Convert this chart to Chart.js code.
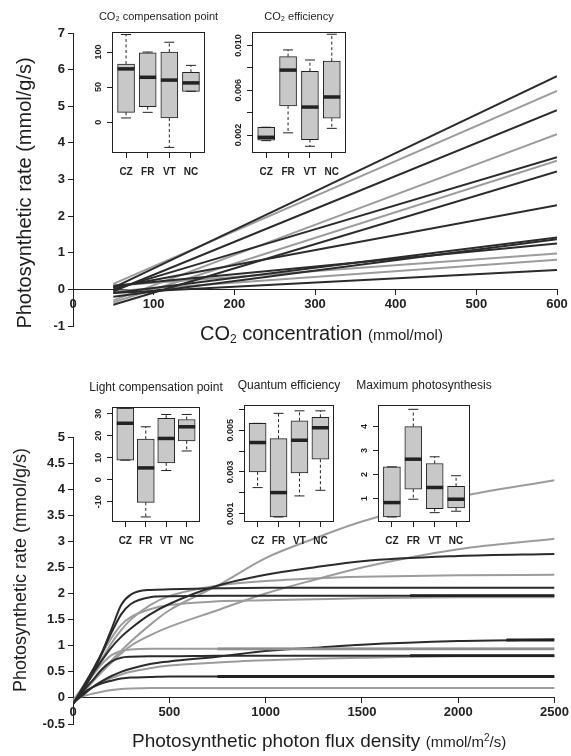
<!DOCTYPE html>
<html lang="en">
<head>
<meta charset="UTF-8">
<title>Photosynthetic response curves</title>
<script src="https://cdn.jsdelivr.net/npm/chart.js"></script>
<style>
    body { margin: 0; background: #fff; }
    #page { position: relative; width: 571px; height: 756px; overflow: hidden;
            font-family: 'Liberation Sans', 'DejaVu Sans', Arial, sans-serif; color: #1e1e1e; }
    canvas { position: absolute; }
    .ytitle { position: absolute; white-space: nowrap; transform: translate(-50%, -50%) rotate(-90deg); }
    .xtitle { position: absolute; white-space: nowrap; transform: translateY(-50%); }
    .unit { font-size: 15px; }
    sub { font-size: 12px; vertical-align: -3px; line-height: 0; }
    sup { font-size: 10px; vertical-align: 6px; line-height: 0; }
</style>
</head>
<body>
<div id="page">
    <canvas id="co2Chart" width="571" height="360" style="left:0;top:0"></canvas>
    <canvas id="lightChart" width="571" height="386" style="left:0;top:370px"></canvas>
    <div class="ytitle" style="left:23.5px;top:193px;font-size:20px">Photosynthetic rate (mmol/g/s)</div>
    <div class="ytitle" style="left:19.5px;top:570px;font-size:18px">Photosynthetic rate (mmol/g/s)</div>
    <div class="xtitle" style="left:200px;top:333px;font-size:20px">CO<sub>2</sub> concentration <span class="unit">(mmol/mol)</span></div>
    <div class="xtitle" style="left:132px;top:741px;font-size:19px">Photosynthetic photon flux density <span class="unit">(mmol/m<sup>2</sup>/s)</span></div>
</div>
<script>
    const FONT = "'Liberation Sans', 'DejaVu Sans', Arial, sans-serif";
    const INK = '#222';
    const BOX_FILL = '#c8c8c8';
    const speciesColor = { A: '#2b2b2b', B: '#9c9c9c' };
    Chart.defaults.font.family = FONT;
    Chart.defaults.color = INK;

    // --- CO2 response: straight fits from 50 to 600 mmol/mol
    const co2X = [50, 600];
    const co2Start = [0.05, 0.15, -0.05, -0.30, 0.00, -0.35, -0.42, 0.05, -0.10, -0.20, 0.10, 0.10, -0.05, -0.10];
    const co2End = [5.82, 5.42, 4.89, 4.24, 3.61, 3.51, 3.22, 2.30, 1.42, 1.37, 1.25, 0.98, 0.81, 0.53];
    const co2Species = ['A', 'B', 'A', 'B', 'A', 'B', 'A', 'A', 'A', 'A', 'A', 'B', 'B', 'A'];
    const co2XTicks = [0, 100, 200, 300, 400, 500, 600];
    const co2YTicks = [-1, 0, 1, 2, 3, 4, 5, 6, 7];

    // --- light response curves
    const lightX = [0, 50, 100, 150, 200, 250, 300, 400, 500, 750, 1000, 1250, 1500, 2000, 2500];
    const curve01 = [-0.12, 0.20, 0.52, 0.87, 1.32, 1.78, 1.98, 2.07, 2.08, 2.10, 2.11, 2.11, 2.11, 2.11, 2.11];
    const curve02 = [-0.12, 0.15, 0.45, 0.85, 1.25, 1.60, 1.80, 1.93, 1.95, 1.96, 1.96, 1.96, 1.96, 1.96, 1.96];
    const curve03 = [-0.10, 0.15, 0.45, 0.72, 0.97, 1.17, 1.33, 1.60, 1.80, 2.15, 2.36, 2.50, 2.62, 2.72, 2.76];
    const curve04 = [-0.10, 0.10, 0.32, 0.52, 0.72, 0.90, 1.08, 1.40, 1.68, 2.15, 2.68, 3.05, 3.38, 3.85, 4.17];
    const curve05 = [-0.10, 0.15, 0.45, 0.75, 1.05, 1.30, 1.50, 1.78, 1.95, 2.15, 2.24, 2.29, 2.32, 2.35, 2.36];
    const curve06 = [-0.10, 0.10, 0.30, 0.50, 0.68, 0.85, 1.00, 1.20, 1.36, 1.68, 2.00, 2.26, 2.50, 2.85, 3.05];
    const curve07 = [-0.10, 0.20, 0.50, 0.85, 1.15, 1.40, 1.55, 1.70, 1.78, 1.85, 1.87, 1.89, 1.91, 1.93, 1.93];
    const curve08 = [-0.05, 0.20, 0.42, 0.65, 0.82, 0.90, 0.93, 0.94, 0.94, 0.94, 0.94, 0.94, 0.94, 0.94, 0.94];
    const curve09 = [-0.10, 0.12, 0.33, 0.55, 0.70, 0.77, 0.79, 0.80, 0.80, 0.81, 0.81, 0.81, 0.81, 0.81, 0.81];
    const curve10 = [-0.10, 0.05, 0.20, 0.32, 0.42, 0.50, 0.56, 0.65, 0.70, 0.79, 0.90, 0.96, 1.02, 1.09, 1.12];
    const curve11 = [-0.08, 0.08, 0.20, 0.30, 0.38, 0.45, 0.50, 0.57, 0.62, 0.68, 0.72, 0.75, 0.77, 0.80, 0.80];
    const curve12 = [-0.10, 0.08, 0.20, 0.28, 0.33, 0.37, 0.39, 0.40, 0.41, 0.41, 0.41, 0.41, 0.41, 0.41, 0.41];
    const curve13 = [-0.05, 0.03, 0.08, 0.12, 0.15, 0.17, 0.18, 0.19, 0.19, 0.19, 0.19, 0.19, 0.19, 0.19, 0.19];
    const lightCurves = [curve01, curve02, curve03, curve04, curve05, curve06, curve07,
                         curve08, curve09, curve10, curve11, curve12, curve13];
    const lightSpecies = ['A', 'A', 'A', 'B', 'B', 'B', 'B', 'B', 'A', 'A', 'B', 'A', 'B'];
    // stretches where two curves lie on top of each other (look thicker)
    const overlapFrom = [750, 750, 1750, 1750, 2250];
    const overlapLevel = [0.41, 0.94, 1.96, 0.81, 1.11];
    const overlapSpecies = ['A', 'B', 'A', 'A', 'A'];
    const lightXTicks = [0, 500, 1000, 1500, 2000, 2500];
    const lightYTicks = [-0.5, 0, 0.5, 1, 1.5, 2, 2.5, 3, 3.5, 4, 4.5, 5];

    // --- inset box plots
    const groups = ['CZ', 'FR', 'VT', 'NC'];

    const compLo = [6, 14, -36, 44];
    const compQ1 = [14, 22, 6, 44];
    const compMed = [76, 64, 60, 56];
    const compQ3 = [83, 99, 100, 71];
    const compHi = [125, 100, 114, 81];
    const compTicks = [0, 50, 100];

    const effLo = [0.0015, 0.0022, 0.0010, 0.0026];
    const effQ1 = [0.00155, 0.0046, 0.0016, 0.0035];
    const effMed = [0.0018, 0.0078, 0.0045, 0.0054];
    const effQ3 = [0.0027, 0.0090, 0.0077, 0.0086];
    const effHi = [0.0027, 0.0096, 0.0087, 0.0110];
    const effTicks = [0.002, 0.004, 0.006, 0.008, 0.010];

    const lcpLo = [8.9, -16.9, 4.2, 13.1];
    const lcpQ1 = [8.9, -10.3, 7.7, 17.7];
    const lcpMed = [25.7, 5.4, 18.8, 24.1];
    const lcpQ3 = [32.6, 18.5, 28.0, 27.4];
    const lcpHi = [32.6, 24.1, 29.7, 29.7];
    const lcpTicks = [-10, 0, 10, 20, 30];

    const qeLo = [0.00225, 0.00084, 0.00185, 0.00212];
    const qeQ1 = [0.0030, 0.00084, 0.00295, 0.00361];
    const qeMed = [0.00441, 0.00201, 0.00452, 0.00512];
    const qeQ3 = [0.00533, 0.0046, 0.00545, 0.00562];
    const qeHi = [0.00533, 0.00581, 0.00593, 0.00593];
    const qeTicks = [0.001, 0.002, 0.003, 0.004, 0.005, 0.006];

    const pmaxLo = [0.23, 0.97, 0.41, 0.47];
    const pmaxQ1 = [0.23, 1.39, 0.58, 0.61];
    const pmaxMed = [0.83, 2.64, 1.46, 0.97];
    const pmaxQ3 = [2.32, 4.00, 2.46, 1.51];
    const pmaxHi = [2.32, 4.72, 2.74, 1.95];
    const pmaxTicks = [1, 2, 3, 4];

    const page = document.getElementById('page');

    function axisStyle(ticks, afterFit, labelPad) {
        return {
            type: 'linear',
            min: ticks[0],
            max: ticks[ticks.length - 1],
            afterBuildTicks: s => { s.ticks = ticks.map(v => ({ value: v })); },
            afterFit: afterFit,
            grid: { drawOnChartArea: false, drawTicks: true, tickLength: 5, color: INK, lineWidth: 1 },
            border: { display: true, color: INK, width: 1 },
            ticks: { callback: v => String(v), color: INK, padding: labelPad, maxRotation: 0, autoSkip: false,
                     font: { size: 13, weight: 'bold' } }
        };
    }

    function mainChart(id, datasets, xTicks, yTicks, padding) {
        const x = axisStyle(xTicks, s => { s.height = 0; }, 2);
        x.position = { y: 0 };
        const y = axisStyle(yTicks, s => { s.width = 73; }, 3);
        return new Chart(document.getElementById(id), {
            type: 'line',
            data: { datasets: datasets },
            options: {
                responsive: false, animation: false, devicePixelRatio: 1,
                layout: { padding: padding },
                plugins: { legend: { display: false }, tooltip: { enabled: false } },
                elements: { point: { radius: 0 } },
                scales: { x: x, y: y }
            }
        });
    }

    const co2Sets = co2Start.map((s, i) => ({
        data: [{ x: co2X[0], y: s }, { x: co2X[1], y: co2End[i] }],
        borderColor: speciesColor[co2Species[i]],
        borderWidth: 2,
        order: co2Species[i] === 'A' ? 0 : 1
    }));
    mainChart('co2Chart', co2Sets, co2XTicks, co2YTicks, { top: 33, right: 14, bottom: 34, left: 0 });

    const lightSets = lightCurves.map((c, i) => ({
        data: lightX.map((x, j) => ({ x: x, y: c[j] })),
        borderColor: speciesColor[lightSpecies[i]],
        borderWidth: 2,
        cubicInterpolationMode: 'monotone',
        order: lightSpecies[i] === 'A' ? 0 : 1
    }));
    overlapFrom.forEach((x0, i) => {
        lightSets.push({
            data: [{ x: x0, y: overlapLevel[i] }, { x: 2500, y: overlapLevel[i] }],
            borderColor: overlapSpecies[i] === 'A' ? '#222' : '#8e8e8e',
            borderWidth: 2.8,
            order: -1
        });
    });
    mainChart('lightChart', lightSets, lightXTicks, lightYTicks, { top: 67, right: 14, bottom: 32, left: 0 });

    // --- inset charts: floating bars for the boxes, a plugin for whiskers, medians and frame
    const ML = 44, MR = 44, MT = 28, MB = 30;
    function inset(cfg) {
        const [fl, ft, fw, fh] = cfg.frame;
        const canvas = document.createElement('canvas');
        canvas.width = fw + ML + MR;
        canvas.height = fh + MT + MB;
        canvas.style.left = (fl - ML) + 'px';
        canvas.style.top = (ft - MT) + 'px';
        page.appendChild(canvas);

        const boxExtras = {
            id: 'boxExtras',
            beforeDraw(chart) {
                const { ctx, chartArea: a } = chart;
                ctx.save();
                ctx.fillStyle = '#fff';
                ctx.fillRect(a.left, a.top, a.right - a.left, a.bottom - a.top);
                ctx.restore();
            },
            afterDatasetsDraw(chart) {
                const { ctx, chartArea: a, scales: { x, y } } = chart;
                ctx.save();
                ctx.strokeStyle = INK;
                cfg.med.forEach((m, i) => {
                    const cx = x.getPixelForValue(i + 1);
                    const hi = y.getPixelForValue(cfg.hi[i]), q3 = y.getPixelForValue(cfg.q3[i]);
                    const lo = y.getPixelForValue(cfg.lo[i]), q1 = y.getPixelForValue(cfg.q1[i]);
                    ctx.lineWidth = 1;
                    ctx.setLineDash([3, 2.5]);
                    ctx.beginPath();
                    if (hi < q3 - 0.5) { ctx.moveTo(cx, q3); ctx.lineTo(cx, hi); }
                    if (lo > q1 + 0.5) { ctx.moveTo(cx, q1); ctx.lineTo(cx, lo); }
                    ctx.stroke();
                    ctx.setLineDash([]);
                    ctx.beginPath();
                    ctx.moveTo(cx - 5, hi); ctx.lineTo(cx + 5, hi);
                    ctx.moveTo(cx - 5, lo); ctx.lineTo(cx + 5, lo);
                    ctx.stroke();
                    const my = y.getPixelForValue(m);
                    ctx.lineWidth = 3.5;
                    ctx.beginPath();
                    ctx.moveTo(cx - 8.5, my); ctx.lineTo(cx + 8.5, my);
                    ctx.stroke();
                });
                ctx.lineWidth = 1;
                ctx.strokeRect(a.left + 0.5, a.top + 0.5, a.right - a.left - 1, a.bottom - a.top - 1);

                ctx.fillStyle = INK;
                ctx.textAlign = 'center';
                ctx.textBaseline = 'middle';
                ctx.font = 'bold 9px ' + FONT;
                cfg.yTicks.forEach((v, i) => {
                    if (!cfg.yLabels[i]) return;
                    ctx.save();
                    ctx.translate(a.left - 13, y.getPixelForValue(v));
                    ctx.rotate(-Math.PI / 2);
                    ctx.fillText(cfg.yLabels[i], 0, 0);
                    ctx.restore();
                });
                ctx.font = cfg.titleSize + 'px ' + FONT;
                ctx.fillText(cfg.title, (a.left + a.right) / 2, a.top - cfg.titleGap);
                ctx.restore();
            }
        };

        return new Chart(canvas, {
            type: 'bar',
            data: {
                datasets: [{
                    data: groups.map((g, i) => ({ x: i + 1, y: [cfg.q1[i], cfg.q3[i]] })),
                    backgroundColor: BOX_FILL,
                    borderColor: INK,
                    borderWidth: 1,
                    borderSkipped: false,
                    barThickness: 17
                }]
            },
            options: {
                responsive: false, animation: false, devicePixelRatio: 1,
                layout: { padding: { top: MT, right: MR, left: 0, bottom: 0 } },
                plugins: { legend: { display: false }, tooltip: { enabled: false } },
                scales: {
                    x: {
                        type: 'linear', min: 0.35, max: 4.65, offset: false,
                        afterBuildTicks: s => { s.ticks = groups.map((g, i) => ({ value: i + 1 })); },
                        afterFit: s => { s.height = MB; },
                        grid: { offset: false, drawOnChartArea: false, drawTicks: true, tickLength: 5, color: INK },
                        border: { display: false },
                        ticks: { callback: v => groups[v - 1], color: INK, padding: 8, maxRotation: 0, autoSkip: false,
                                 font: { size: 10, weight: 'bold' } }
                    },
                    y: {
                        type: 'linear', min: cfg.yMin, max: cfg.yMax,
                        afterBuildTicks: s => { s.ticks = cfg.yTicks.map(v => ({ value: v })); },
                        afterFit: s => { s.width = ML; },
                        grid: { drawOnChartArea: false, drawTicks: true, tickLength: 5, color: INK },
                        border: { display: false },
                        ticks: { display: false }
                    }
                }
            },
            plugins: [boxExtras]
        });
    }

    inset({ frame: [112, 32, 93, 121], title: 'CO\u2082 compensation point', titleSize: 11, titleGap: 15,
            lo: compLo, q1: compQ1, med: compMed, q3: compQ3, hi: compHi,
            yMin: -44, yMax: 128.6, yTicks: compTicks, yLabels: ['0', '50', '100'] });
    inset({ frame: [252, 32, 94, 121], title: 'CO\u2082 efficiency', titleSize: 11, titleGap: 15,
            lo: effLo, q1: effQ1, med: effMed, q3: effQ3, hi: effHi,
            yMin: 0.0004, yMax: 0.0112, yTicks: effTicks, yLabels: ['0.002', '', '0.006', '', '0.010'] });
    inset({ frame: [112, 407, 88, 115], title: 'Light compensation point', titleSize: 12, titleGap: 19,
            lo: lcpLo, q1: lcpQ1, med: lcpMed, q3: lcpQ3, hi: lcpHi,
            yMin: -19.2, yMax: 33.1, yTicks: lcpTicks, yLabels: ['-10', '0', '10', '20', '30'] });
    inset({ frame: [244, 405, 90, 117], title: 'Quantum efficiency', titleSize: 12, titleGap: 19,
            lo: qeLo, q1: qeQ1, med: qeMed, q3: qeQ3, hi: qeHi,
            yMin: 0.0006, yMax: 0.00621, yTicks: qeTicks, yLabels: ['0.001', '', '0.003', '', '0.005', ''] });
    inset({ frame: [378, 405, 92, 117], title: 'Maximum photosynthesis', titleSize: 12, titleGap: 19,
            lo: pmaxLo, q1: pmaxQ1, med: pmaxMed, q3: pmaxQ3, hi: pmaxHi,
            yMin: 0.02, yMax: 4.9, yTicks: pmaxTicks, yLabels: ['1', '2', '3', '4'] });
</script>
</body>
</html>
